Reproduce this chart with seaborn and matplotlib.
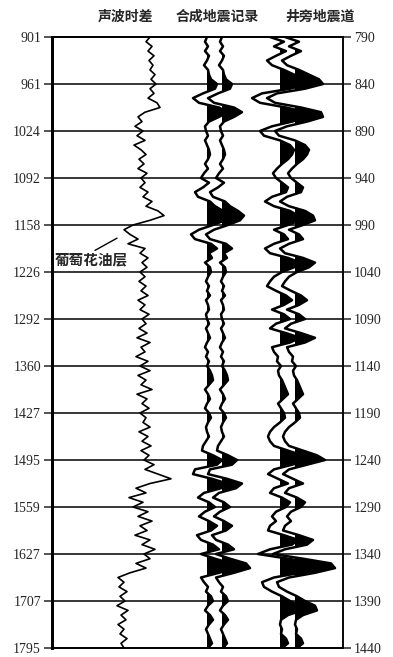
import numpy as np
import pandas as pd
import matplotlib
matplotlib.use("Agg")
import matplotlib.pyplot as plt
import seaborn as sns

# -------------------------------
# data (two-way time in ms, sampled every 5 ms)
# -------------------------------
time_ticks = [790, 840, 890, 940, 990, 1040, 1090, 1140, 1190, 1240, 1290, 1340, 1390, 1440]
depth_labels = ["901", "961", "1024", "1092", "1158", "1226", "1292", "1360",
                "1427", "1495", "1559", "1627", "1707", "1795"]
titles = ["声波时差", "合成地震记录", "井旁地震道"]
layer_name = "葡萄花油层"

# sonic transit time, us/m
sonic_dt = [
    392, 376, 400, 384, 408, 388, 404, 392, 412, 396, 416, 392, 408, 384, 420, 432,
    372, 344, 360, 332, 364, 340, 372, 328, 356, 376, 348, 368, 344, 380, 356, 372,
    352, 384, 364, 400, 376, 424, 448, 392, 324, 288, 312, 344, 304, 372, 352, 384,
    360, 380, 352, 372, 348, 376, 356, 384, 344, 372, 352, 388, 360, 376, 348, 380,
    340, 392, 356, 372, 336, 384, 352, 392, 344, 376, 356, 400, 340, 380, 360, 388,
    352, 376, 364, 392, 348, 384, 360, 396, 356, 388, 368, 408, 372, 424, 476, 392,
    336, 376, 308, 364, 324, 384, 344, 400, 352, 380, 332, 392, 360, 412, 368, 392,
    336, 376, 312, 264, 288, 268, 300, 272, 292, 260, 304, 276, 296, 264, 288, 272,
    300, 276, 288,
]

# synthetic seismogram amplitude
synthetic_amp = [
    0, -2, 1, -2, 2, 0, -3, 1, 2, 4, 10, 8, -4, -14, -8, 12,
    20, 12, 2, -2, -1, 1, -2, 0, 2, 3, 1, -2, 1, -3, -6, 2,
    -4, -12, -9, 3, 8, 16, 22, 18, 6, -8, -16, -12, 4, 10, 2, 5,
    -2, 3, 4, 1, -1, 2, 0, 3, -1, 1, 2, -1, 0, 2, -1, 1,
    3, 0, -2, 1, -1, 2, 0, 3, 5, 6, 2, -2, 1, 3, 0, -2,
    2, 4, 1, -1, 0, 2, -1, -4, -5, 6, 15, 10, -12, -14, 5, 20,
    14, -3, -9, 2, 8, -2, -8, 2, 10, 4, -10, -6, 6, 12, -6, 8,
    24, 28, 12, -6, -3, 1, -1, 4, 6, 1, -2, 3, 6, 2, -1, 1,
    3, 5, 1,
]

# well-side seismic trace amplitude
seismic_amp = [
    -10, 4, -6, 6, -4, -13, -8, 4, 14, 24, 28, 10, -18, -28, -20, 6,
    26, 28, 12, -8, -20, -16, 0, 10, 14, 12, 8, 2, -3, -7, -4, 2,
    8, 6, -8, -15, -6, 10, 18, 20, 8, -6, 4, 8, -6, -15, -10, 8,
    20, 14, 2, -6, -10, -13, -4, 6, 12, 4, -8, 4, 10, -4, -10, 6,
    20, 10, -8, -6, -2, -3, 1, -2, -1, 2, 4, 6, 8, 3, -2, 1,
    4, 5, 0, -6, -10, -12, -10, -6, 8, 22, 30, 12, -6, -12, -2, 8,
    -6, -10, 2, 10, 6, -4, -8, -4, -10, -12, 4, 18, 12, -10, -22, 8,
    36, 40, 20, -6, -18, -16, -8, 2, 10, 20, 22, 8, 1, 0, 2, 1,
    6, 8, 2,
]

time_ms = np.arange(790, 1441, 5)
df = pd.DataFrame({
    "time": time_ms,
    "sonic": sonic_dt,
    "synthetic": synthetic_amp,
    "seismic": seismic_amp,
})

# track layout (x in axis units)
sonic_scale = 0.25
synthetic_bases = [155, 170]
seismic_bases = [228, 243]

# -------------------------------
# figure
# -------------------------------
sns.set_style("white")
plt.rcParams["font.family"] = ["Liberation Serif", "DejaVu Serif"]
cjk = ["Noto Sans CJK SC", "DejaVu Sans"]

fig = plt.figure(figsize=(3.93, 6.57), dpi=100)
ax = fig.add_axes([52 / 393, 9 / 657, 291 / 393, 611 / 657])

# sonic log
sns.lineplot(x=df["sonic"] * sonic_scale, y=df["time"], orient="y", sort=False,
             estimator=None, color="black", lw=1.2, ax=ax)


def wiggle(amp, base, lw):
    x = base + df[amp]
    sns.lineplot(x=x, y=df["time"], orient="y", sort=False, estimator=None,
                 color="black", lw=lw, ax=ax)
    ax.fill_betweenx(df["time"], base, x, where=df[amp] > 0,
                     color="black", interpolate=True, lw=0)


for b in synthetic_bases:
    wiggle("synthetic", b, 1.8)
for b in seismic_bases:
    wiggle("seismic", b, 1.8)

ax.hlines(time_ticks, 0, 291, color="black", lw=1.1, clip_on=False)

ax.set_xlim(0, 291)
ax.set_ylim(1440, 790)
ax.set_xticks([])
ax.set_xlabel("")
ax.set_ylabel("")
ax.set_yticks(time_ticks)
ax.set_yticklabels(depth_labels)
ax.tick_params(axis="y", direction="out", length=6, width=1.1, labelsize=10, pad=2)

ax2 = ax.twinx()
ax2.set_ylim(1440, 790)
ax2.set_yticks(time_ticks)
ax2.set_yticklabels([str(t) for t in time_ticks])
ax2.tick_params(axis="y", direction="out", length=6, width=1.1, labelsize=10, pad=2)

for a in (ax, ax2):
    for s in a.spines.values():
        s.set_color("black")
        s.set_linewidth(1.1)
ax.spines["left"].set_linewidth(2.0)
ax2.spines["left"].set_linewidth(2.0)

# oil layer label with leader line
ax.text(3, 1027, layer_name, family=cjk, fontsize=10.5, fontweight="bold",
        ha="left", va="center")
ax.plot([43, 65], [1017, 1004], color="black", lw=1.0)

# column titles
for name, cx in zip(titles, [126, 217, 320]):
    fig.text(cx / 393, 1 - 17 / 657, name, family=cjk, fontsize=10,
             fontweight="bold", ha="center", va="center")

fig.savefig("out.png", dpi=100)
